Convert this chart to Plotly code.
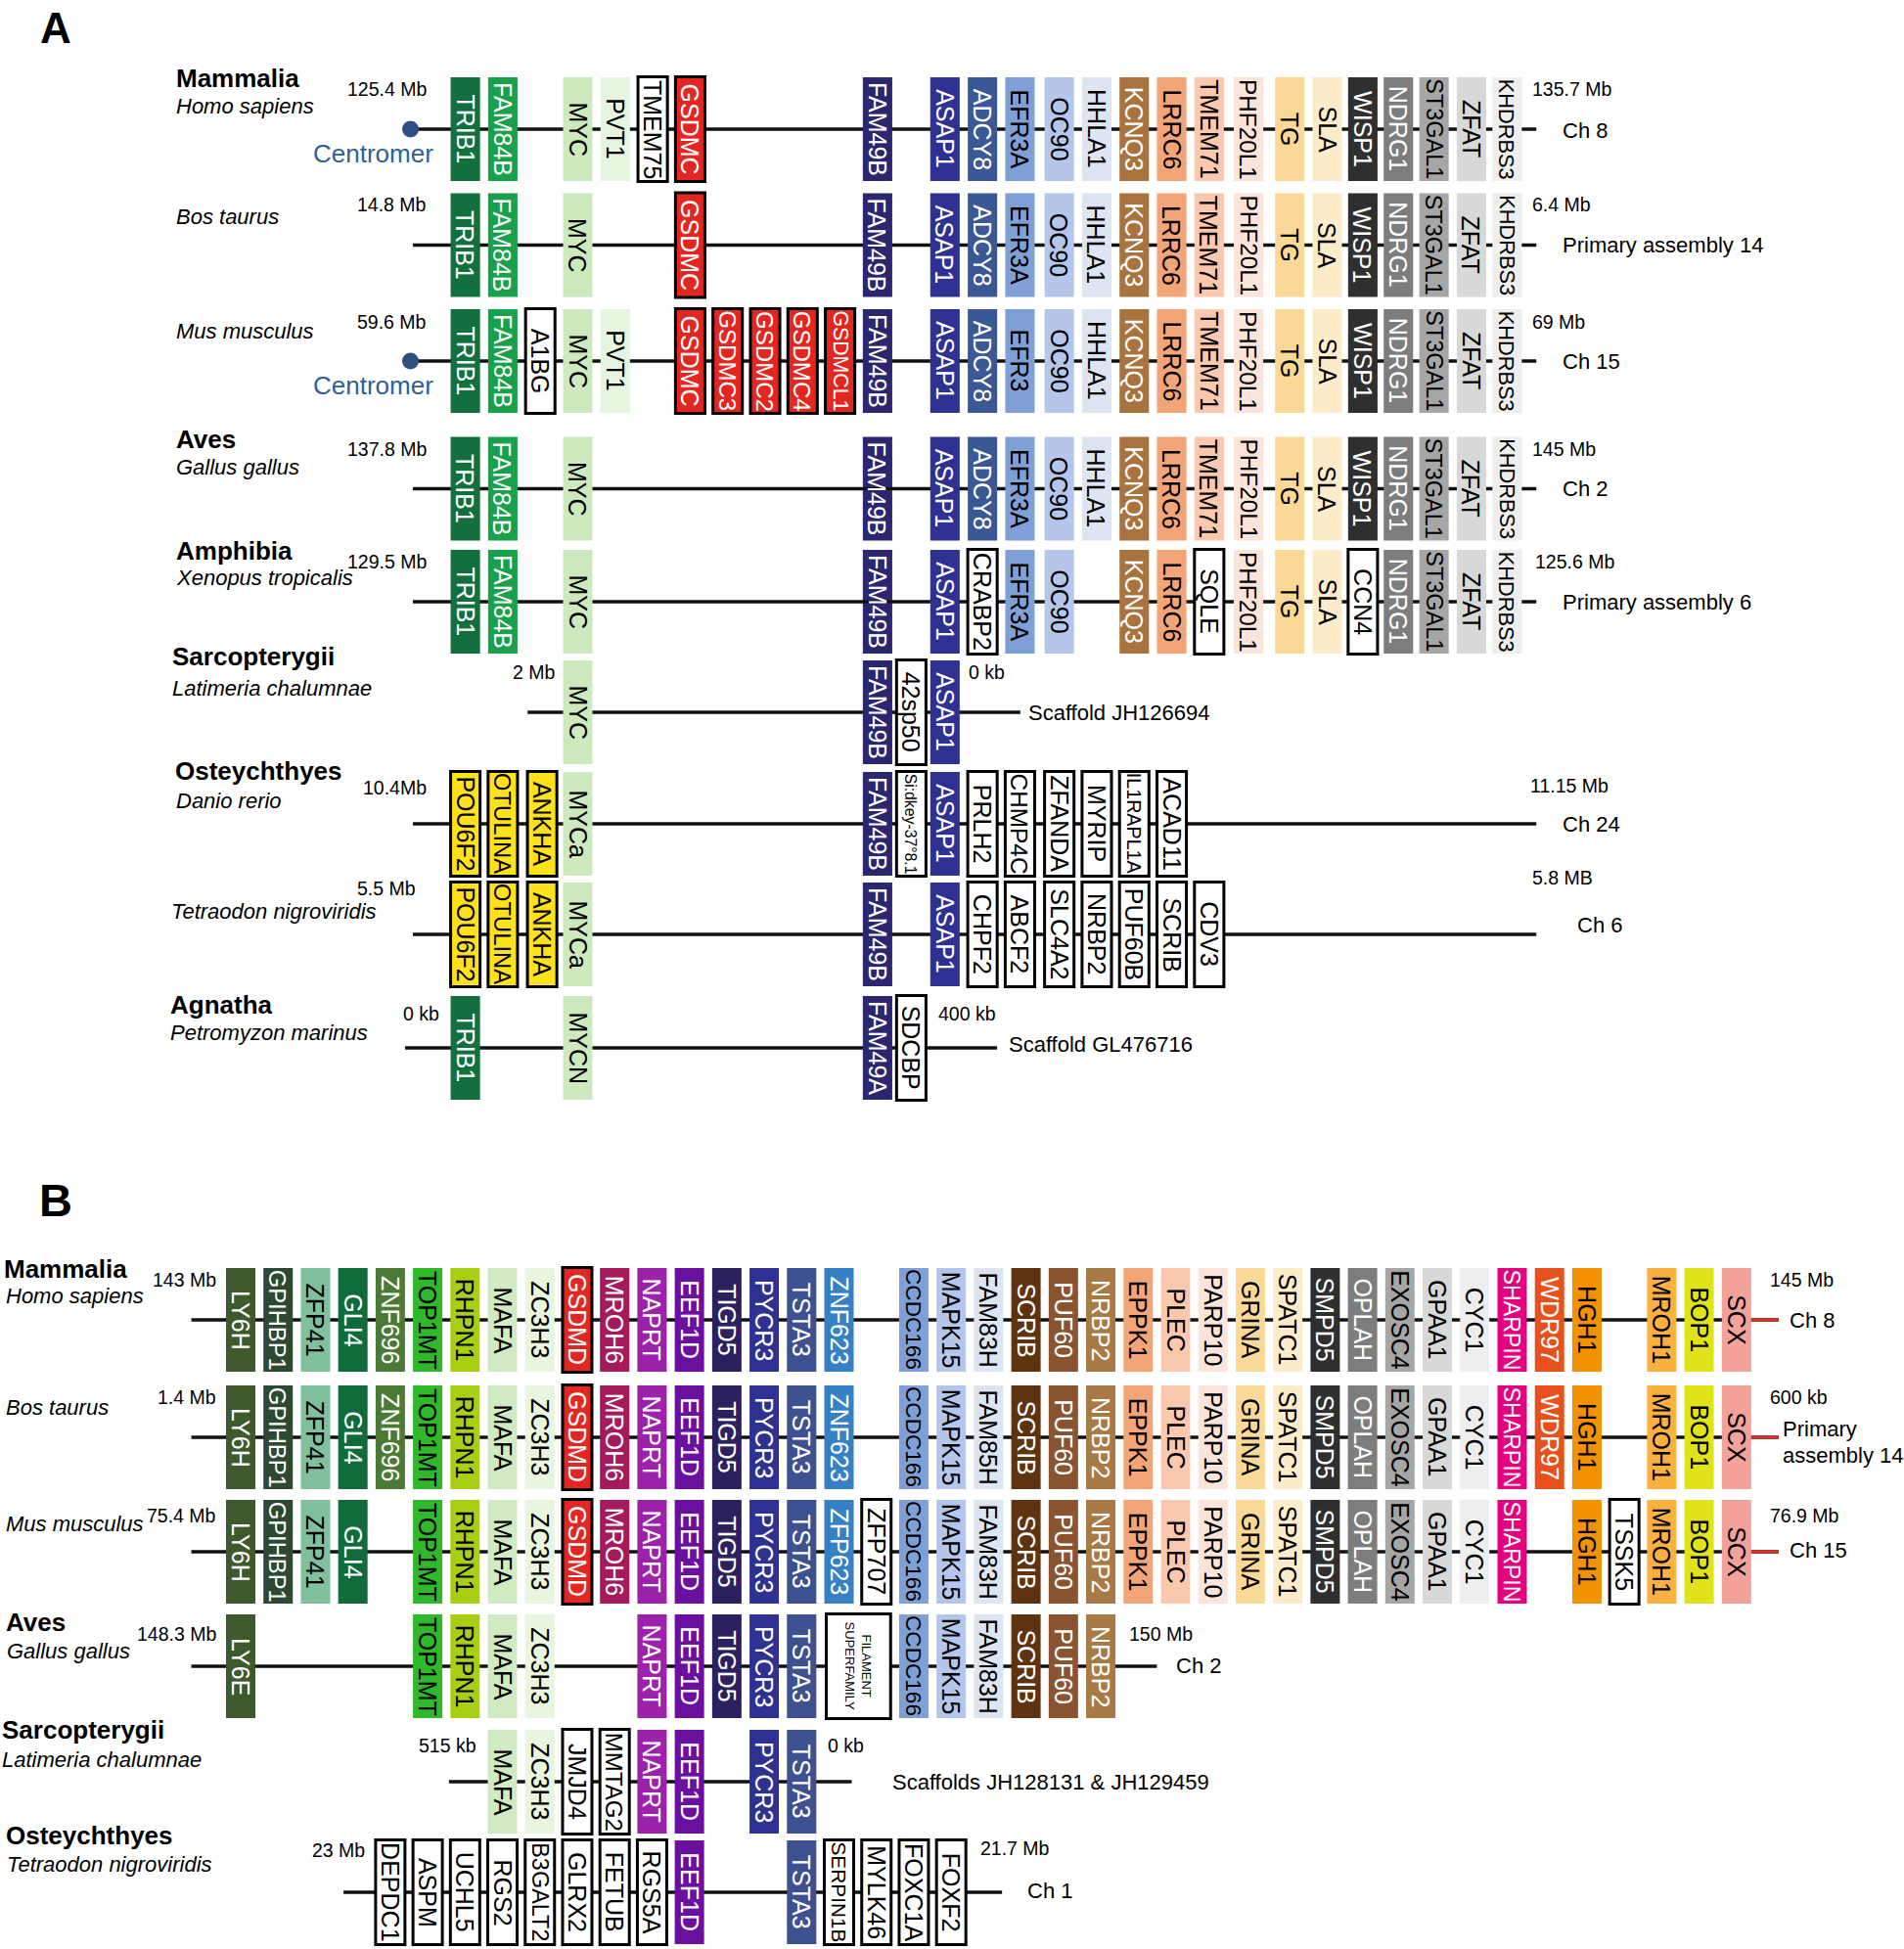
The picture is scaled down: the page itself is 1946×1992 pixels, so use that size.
import plotly.graph_objects as go

W, H = 1946, 1992
FONT = "Liberation Sans, Arial, Helvetica, sans-serif"

# ======================= PANEL A : data =======================
# schematic gene order positions (slot units along the locus)
A_SLOT = {
    "TRIB1": 0, "POU6F2": 0, "FAM84B": 1, "OTULINA": 1, "A1BG": 2, "ANKHA": 2.05,
    "MYC": 3, "MYCa": 3, "MYCN": 3, "PVT1": 4, "TMEM75": 5, "GSDMC": 6, "GSDMC3": 7,
    "GSDMC2": 8, "GSDMC4": 9, "GSDMCL1": 10, "FAM49B": 11, "FAM49A": 11,
    "42sp50": 11.9, "Si:dkey-37°8.1": 11.9, "SDCBP": 11.9, "ASAP1": 12.8,
    "ADCY8": 13.8, "CRABP2": 13.8, "PRLH2": 13.8, "CHPF2": 13.8,
    "EFR3A": 14.8, "EFR3": 14.8, "CHMP4C": 14.8, "ABCF2": 14.8,
    "OC90": 15.85, "ZFANDA": 15.85, "SLC4A2": 15.85,
    "HHLA1": 16.85, "MYRIP": 16.85, "NRBP2": 16.85,
    "KCNQ3": 17.85, "IL1RAPL1A": 17.85, "PUF60B": 17.85,
    "LRRC6": 18.85, "ACAD11": 18.85, "SCRIB": 18.85,
    "TMEM71": 19.85, "SQLE": 19.85, "CDV3": 19.85,
    "PHF20L1": 20.9, "TG": 22, "SLA": 23, "WISP1": 23.95, "CCN4": 23.95,
    "NDRG1": 24.9, "ST3GAL1": 25.85, "ZFAT": 26.85, "KHDRBS3": 27.8,
}
A_HSA = ["TRIB1", "FAM84B", "MYC", "PVT1", "TMEM75", "GSDMC", "FAM49B", "ASAP1", "ADCY8",
         "EFR3A", "OC90", "HHLA1", "KCNQ3", "LRRC6", "TMEM71", "PHF20L1", "TG", "SLA",
         "WISP1", "NDRG1", "ST3GAL1", "ZFAT", "KHDRBS3"]
A_BTA = ["TRIB1", "FAM84B", "MYC", "GSDMC", "FAM49B", "ASAP1", "ADCY8", "EFR3A", "OC90",
         "HHLA1", "KCNQ3", "LRRC6", "TMEM71", "PHF20L1", "TG", "SLA", "WISP1", "NDRG1",
         "ST3GAL1", "ZFAT", "KHDRBS3"]
A_MMU = ["TRIB1", "FAM84B", "A1BG", "MYC", "PVT1", "GSDMC", "GSDMC3", "GSDMC2", "GSDMC4",
         "GSDMCL1", "FAM49B", "ASAP1", "ADCY8", "EFR3", "OC90", "HHLA1", "KCNQ3", "LRRC6",
         "TMEM71", "PHF20L1", "TG", "SLA", "WISP1", "NDRG1", "ST3GAL1", "ZFAT", "KHDRBS3"]
A_GGA = ["TRIB1", "FAM84B", "MYC", "FAM49B", "ASAP1", "ADCY8", "EFR3A", "OC90", "HHLA1",
         "KCNQ3", "LRRC6", "TMEM71", "PHF20L1", "TG", "SLA", "WISP1", "NDRG1", "ST3GAL1",
         "ZFAT", "KHDRBS3"]
A_XTR = ["TRIB1", "FAM84B", "MYC", "FAM49B", "ASAP1", "CRABP2", "EFR3A", "OC90", "KCNQ3",
         "LRRC6", "SQLE", "PHF20L1", "TG", "SLA", "CCN4", "NDRG1", "ST3GAL1", "ZFAT", "KHDRBS3"]
A_LCH = ["MYC", "FAM49B", "42sp50", "ASAP1"]
A_DRE = ["POU6F2", "OTULINA", "ANKHA", "MYCa", "FAM49B", "Si:dkey-37°8.1", "ASAP1", "PRLH2",
         "CHMP4C", "ZFANDA", "MYRIP", "IL1RAPL1A", "ACAD11"]
A_TNI = ["POU6F2", "OTULINA", "ANKHA", "MYCa", "FAM49B", "ASAP1", "CHPF2", "ABCF2", "SLC4A2",
         "NRBP2", "PUF60B", "SCRIB", "CDV3"]
A_PMA = ["TRIB1", "MYCN", "FAM49A", "SDCBP"]
A_ROWS = [A_HSA, A_BTA, A_MMU, A_GGA, A_XTR, A_LCH, A_DRE, A_TNI, A_PMA]

A_GROUP = ["Mammalia", "", "", "Aves", "Amphibia", "Sarcopterygii", "Osteychthyes", "", "Agnatha"]
A_SPECIES = ["Homo sapiens", "Bos taurus", "Mus musculus", "Gallus gallus", "Xenopus tropicalis",
             "Latimeria chalumnae", "Danio rerio", "Tetraodon nigroviridis", "Petromyzon marinus"]
A_START = ["125.4 Mb", "14.8 Mb", "59.6 Mb", "137.8 Mb", "129.5 Mb", "2 Mb", "10.4Mb", "5.5 Mb", "0 kb"]
A_END = ["135.7 Mb", "6.4 Mb", "69 Mb", "145 Mb", "125.6 Mb", "0 kb", "11.15 Mb", "5.8 MB", "400 kb"]
A_CHROM = ["Ch 8", "Primary assembly 14", "Ch 15", "Ch 2", "Primary assembly 6",
           "Scaffold JH126694", "Ch 24", "Ch 6", "Scaffold GL476716"]
A_EXTENT_FROM = [-1.465, -1.40, -1.465, -1.40, -1.40, 1.66, -1.40, -1.40, -1.61]
A_EXTENT_TO = [28.58, 28.58, 28.58, 28.58, 28.58, 14.81, 28.58, 28.58, 14.19]
A_CENTROMERE_ROWS = [0, 2]
A_CENTROMERE_SLOT = -1.465

# ======================= PANEL B : data =======================
B_SLOT = {
    "LY6H": 0, "LY6E": 0, "GPIHBP1": 1, "ZFP41": 2, "GLI4": 3, "ZNF696": 4, "DEPDC1": 4,
    "TOP1MT": 5, "ASPM": 5, "RHPN1": 6, "UCHL5": 6, "MAFA": 7, "RGS2": 7,
    "ZC3H3": 8, "B3GALT2": 8, "GSDMD": 9, "JMJD4": 9, "GLRX2": 9,
    "MROH6": 10, "MMTAG2": 10, "FETUB": 10, "NAPRT": 11, "RGS5A": 11, "EEF1D": 12,
    "TIGD5": 13, "PYCR3": 14, "TSTA3": 15, "ZNF623": 16, "ZFP623": 16, "SERPIN1B": 16,
    "FILAMENT SUPERFAMILY": 16.52, "ZFP707": 17, "MYLK46": 17, "CCDC166": 18, "FOXC1A": 18,
    "MAPK15": 19, "FOXF2": 19, "FAM83H": 20, "FAM85H": 20, "SCRIB": 21, "PUF60": 22,
    "NRBP2": 23, "EPPK1": 24, "PLEC": 25, "PARP10": 26, "GRINA": 27, "SPATC1": 28,
    "SMPD5": 29, "OPLAH": 30, "EXOSC4": 31, "GPAA1": 32, "CYC1": 33, "SHARPIN": 34,
    "WDR97": 35, "HGH1": 36, "TSSK5": 37, "MROH1": 38, "BOP1": 39, "SCX": 40,
}
B_HSA = ["LY6H", "GPIHBP1", "ZFP41", "GLI4", "ZNF696", "TOP1MT", "RHPN1", "MAFA", "ZC3H3",
         "GSDMD", "MROH6", "NAPRT", "EEF1D", "TIGD5", "PYCR3", "TSTA3", "ZNF623", "CCDC166",
         "MAPK15", "FAM83H", "SCRIB", "PUF60", "NRBP2", "EPPK1", "PLEC", "PARP10", "GRINA",
         "SPATC1", "SMPD5", "OPLAH", "EXOSC4", "GPAA1", "CYC1", "SHARPIN", "WDR97", "HGH1",
         "MROH1", "BOP1", "SCX"]
B_BTA = ["LY6H", "GPIHBP1", "ZFP41", "GLI4", "ZNF696", "TOP1MT", "RHPN1", "MAFA", "ZC3H3",
         "GSDMD", "MROH6", "NAPRT", "EEF1D", "TIGD5", "PYCR3", "TSTA3", "ZNF623", "CCDC166",
         "MAPK15", "FAM85H", "SCRIB", "PUF60", "NRBP2", "EPPK1", "PLEC", "PARP10", "GRINA",
         "SPATC1", "SMPD5", "OPLAH", "EXOSC4", "GPAA1", "CYC1", "SHARPIN", "WDR97", "HGH1",
         "MROH1", "BOP1", "SCX"]
B_MMU = ["LY6H", "GPIHBP1", "ZFP41", "GLI4", "TOP1MT", "RHPN1", "MAFA", "ZC3H3", "GSDMD",
         "MROH6", "NAPRT", "EEF1D", "TIGD5", "PYCR3", "TSTA3", "ZFP623", "ZFP707", "CCDC166",
         "MAPK15", "FAM83H", "SCRIB", "PUF60", "NRBP2", "EPPK1", "PLEC", "PARP10", "GRINA",
         "SPATC1", "SMPD5", "OPLAH", "EXOSC4", "GPAA1", "CYC1", "SHARPIN", "HGH1", "TSSK5",
         "MROH1", "BOP1", "SCX"]
B_GGA = ["LY6E", "TOP1MT", "RHPN1", "MAFA", "ZC3H3", "NAPRT", "EEF1D", "TIGD5", "PYCR3",
         "TSTA3", "FILAMENT SUPERFAMILY", "CCDC166", "MAPK15", "FAM83H", "SCRIB", "PUF60", "NRBP2"]
B_LCH = ["MAFA", "ZC3H3", "JMJD4", "MMTAG2", "NAPRT", "EEF1D", "PYCR3", "TSTA3"]
B_TNI = ["DEPDC1", "ASPM", "UCHL5", "RGS2", "B3GALT2", "GLRX2", "FETUB", "RGS5A", "EEF1D",
         "TSTA3", "SERPIN1B", "MYLK46", "FOXC1A", "FOXF2"]
B_ROWS = [B_HSA, B_BTA, B_MMU, B_GGA, B_LCH, B_TNI]

B_GROUP = ["Mammalia", "", "", "Aves", "Sarcopterygii", "Osteychthyes"]
B_SPECIES = ["Homo sapiens", "Bos taurus", "Mus musculus", "Gallus gallus",
             "Latimeria chalumnae", "Tetraodon nigroviridis"]
B_START = ["143 Mb", "1.4 Mb", "75.4 Mb", "148.3 Mb", "515 kb", "23 Mb"]
B_END = ["145 Mb", "600 kb", "76.9 Mb", "150 Mb", "0 kb", "21.7 Mb"]
B_CHROM = ["Ch 8", "Primary<br>assembly 14", "Ch 15", "Ch 2", "Scaffolds JH128131 & JH129459", "Ch 1"]
B_EXTENT_FROM = [-1.32, -1.32, -1.32, -1.32, 5.57, 2.75]
B_EXTENT_TO = [41.13, 41.13, 41.13, 24.5, 16.34, 20.36]
B_RED_TAIL_ROWS = [0, 1, 2]

# ======================= styles =======================
W_, K_ = "white", "black"
A_COLORS = {
    "TRIB1": ("#12703f", W_), "FAM84B": ("#17a14b", W_), "MYC": ("#cdeabf", K_),
    "MYCa": ("#cdeabf", K_), "MYCN": ("#cdeabf", K_), "PVT1": ("#e6f5df", K_),
    "GSDMC": ("#e3261f", W_), "GSDMC3": ("#e3261f", W_), "GSDMC2": ("#e3261f", W_),
    "GSDMC4": ("#e3261f", W_), "GSDMCL1": ("#e3261f", W_),
    "FAM49B": ("#2c2670", W_), "FAM49A": ("#2c2670", W_), "ASAP1": ("#2e3192", W_),
    "ADCY8": ("#3b5896", W_), "EFR3A": ("#7ea0d6", K_), "EFR3": ("#7ea0d6", K_),
    "OC90": ("#b4c7ea", K_), "HHLA1": ("#dde5f3", K_), "KCNQ3": ("#a8733e", W_),
    "LRRC6": ("#f3a578", K_), "TMEM71": ("#fac9ad", K_), "PHF20L1": ("#fde4da", K_),
    "TG": ("#f9d995", K_), "SLA": ("#fdebca", K_), "WISP1": ("#2f2f2f", W_),
    "NDRG1": ("#7d7d7d", W_), "ST3GAL1": ("#a6a6a6", K_), "ZFAT": ("#d8d8d8", K_),
    "KHDRBS3": ("#eeeeee", K_),
    "POU6F2": ("#ffe11a", K_), "OTULINA": ("#ffe11a", K_), "ANKHA": ("#ffe11a", K_),
}
B_COLORS = {
    "LY6H": ("#3e5a2c", W_), "LY6E": ("#3e5a2c", W_), "GPIHBP1": ("#2c4a32", W_),
    "ZFP41": ("#80c09c", K_), "GLI4": ("#0f6b3c", W_), "ZNF696": ("#4b7a35", W_),
    "TOP1MT": ("#2eb82a", K_), "RHPN1": ("#a9cf12", K_), "MAFA": ("#d0ebc2", K_),
    "ZC3H3": ("#e8f5df", K_), "GSDMD": ("#e3261f", W_), "MROH6": ("#a61a5c", W_),
    "NAPRT": ("#9c22ab", W_), "EEF1D": ("#6b0fa0", W_), "TIGD5": ("#2c205e", W_),
    "PYCR3": ("#2e3192", W_), "TSTA3": ("#3d5190", W_), "ZNF623": ("#3880c6", W_),
    "ZFP623": ("#3880c6", W_), "CCDC166": ("#7ea0d6", K_), "MAPK15": ("#b4c7ea", K_),
    "FAM83H": ("#dde5f3", K_), "FAM85H": ("#dde5f3", K_), "SCRIB": ("#5e3312", W_),
    "PUF60": ("#8a5431", W_), "NRBP2": ("#a87a46", W_), "EPPK1": ("#f3a578", K_),
    "PLEC": ("#fac9ad", K_), "PARP10": ("#fde4da", K_), "GRINA": ("#f9d995", K_),
    "SPATC1": ("#fdebca", K_), "SMPD5": ("#2f2f2f", W_), "OPLAH": ("#7d7d7d", W_),
    "EXOSC4": ("#a6a6a6", K_), "GPAA1": ("#d8d8d8", K_), "CYC1": ("#eeeeee", K_),
    "SHARPIN": ("#e5007d", W_), "WDR97": ("#e8501c", W_), "HGH1": ("#f39200", K_),
    "MROH1": ("#fbb040", K_), "BOP1": ("#e1e31a", K_), "SCX": ("#f4a19b", K_),
}
OUTLINED_COLOURED = {"GSDMC", "GSDMC3", "GSDMC2", "GSDMC4", "GSDMCL1", "GSDMD",
                     "POU6F2", "OTULINA", "ANKHA"}
WIDE_BOX = {"FILAMENT SUPERFAMILY": 1.72}

A_ROW_Y = [132, 250.5, 369, 499.5, 615, 728, 842, 955, 1071]
B_ROW_Y = [1349, 1469, 1586, 1703, 1821, 1934]
A_X0, A_STEP = 475.6, 38.3     # pixel of slot 0 and pixel per slot (panel A axis)
B_X0, B_STEP = 246.0, 38.22    # panel B axis
BOX_W = 0.785
BOX_HH = 53.0
LINE_W = 3.5
LINE_C = "#111111"
TAIL_C = "#d2322d"

# Arial advance widths (em) used to fit gene labels into their boxes
ADV = dict(zip("ABCDEFGHIJKLMNOPQRSTUVWXYZ",
               [.667, .667, .722, .722, .667, .611, .778, .722, .278, .5, .667, .556, .833,
                .722, .778, .667, .778, .722, .667, .611, .722, .667, .944, .667, .667, .611]))
ADV.update({d: .556 for d in "0123456789"})
ADV.update(dict(zip("abcdefghijklmnopqrstuvwxyz",
                    [.556, .556, .5, .556, .556, .278, .556, .556, .222, .222, .5, .222, .833,
                     .556, .556, .556, .556, .333, .5, .278, .556, .5, .722, .5, .5, .5])))
ADV.update({":": .278, "-": .333, ".": .278, " ": .278, "°": .4})


def fit_size(label, base=25.0, maxlen=103.0):
    em = sum(ADV.get(c, .6) for c in label)
    return min(base, maxlen / em)


shapes, annotations = [], []


def draw_panel(rows, slotmap, colors, row_y, ext_from, ext_to, xref, tail_rows=()):
    # chromosome lines first (below boxes)
    for r, y in enumerate(row_y):
        shapes.append(dict(type="line", xref=xref, yref="y", x0=ext_from[r], x1=ext_to[r],
                           y0=y, y1=y, line=dict(color=LINE_C, width=LINE_W), layer="above"))
        if r in tail_rows:
            last = slotmap[rows[r][-1]]
            shapes.append(dict(type="line", xref=xref, yref="y", x0=last, x1=ext_to[r],
                               y0=y, y1=y, line=dict(color=TAIL_C, width=LINE_W), layer="above"))
    for r, genes in enumerate(rows):
        y = row_y[r]
        for g in genes:
            s = slotmap[g]
            bw = WIDE_BOX.get(g, BOX_W)
            if g in colors:
                fill, tc = colors[g]
                outlined = g in OUTLINED_COLOURED
            else:
                fill, tc, outlined = "white", "black", True
            hh = BOX_HH + (0.5 if outlined else 0)
            shapes.append(dict(type="rect", xref=xref, yref="y", x0=s - bw / 2, x1=s + bw / 2,
                               y0=y - hh, y1=y + hh, fillcolor=fill, layer="above",
                               line=dict(color="black", width=3 if outlined else 0)))
            if g == "FILAMENT SUPERFAMILY":
                txt, size = "FILAMENT<br>SUPERFAMILY", 13
            else:
                txt, size = g, fit_size(g)
            annotations.append(dict(x=s, y=y, xref=xref, yref="y", text=txt, textangle=90,
                                    showarrow=False, xanchor="center", yanchor="middle",
                                    font=dict(family=FONT, size=size, color=tc)))


draw_panel(A_ROWS, A_SLOT, A_COLORS, A_ROW_Y, A_EXTENT_FROM, A_EXTENT_TO, "x")
# the chromosome line runs across FAM49B in the chicken and frog tracks
for r in (3, 4):
    s = A_SLOT["FAM49B"]
    shapes.append(dict(type="line", xref="x", yref="y", x0=s - BOX_W / 2, x1=s + BOX_W / 2,
                       y0=A_ROW_Y[r], y1=A_ROW_Y[r], line=dict(color=LINE_C, width=3),
                       layer="above"))
draw_panel(B_ROWS, B_SLOT, B_COLORS, B_ROW_Y, B_EXTENT_FROM, B_EXTENT_TO, "x2", B_RED_TAIL_ROWS)


def label(text, x_px, y_px, size, anchor="left", color="black"):
    lines = text.split("<br>")
    step = size * 1.2
    for i, ln in enumerate(lines):
        yy = y_px + (i - (len(lines) - 1) / 2) * step
        annotations.append(dict(x=x_px / W, y=yy, xref="paper", yref="y", text=ln,
                                showarrow=False, xanchor=anchor, yanchor="middle", align="left",
                                font=dict(family=FONT, size=size, color=color)))


# ---- panel A labels (text layout) ----
label("<b>A</b>", 57, 28, 44, "center")
A_GROUP_XY = [(178, 80), None, None, (178, 449), (178, 563), (174, 671), (177, 788), None, (172, 1027)]
A_SPECIES_XY = [(178, 108), (178, 221), (178, 338), (178, 477), (178, 590), (174, 703),
                (178, 818), (173, 931), (172, 1055)]
A_START_XY = [(437.5, 91), (437.5, 209), (437.5, 328.5), (437.5, 459), (437.5, 573.5),
              (570, 687), (437.5, 804.5), (427, 908), (451, 1035.5)]
A_END_XY = [(1564, 91), (1564, 209), (1564, 328.5), (1564, 459), (1567, 573.5), (988, 687),
            (1562, 802.5), (1564, 897), (957, 1035.5)]
A_CHROM_XY = [(1595, 133), (1595, 250.5), (1595, 369.5), (1595, 499.5), (1595, 615.5),
              (1049, 728), (1595, 842.5), (1610, 945), (1029, 1067.5)]
for r in range(len(A_SPECIES)):
    if A_GROUP[r]:
        gx, gy = A_GROUP_XY[r]
        label("<b>%s</b>" % A_GROUP[r], gx, gy, 26)
    sx, sy = A_SPECIES_XY[r]
    label("<i>%s</i>" % A_SPECIES[r], sx, sy, 22)
    label(A_START[r], A_START_XY[r][0], A_START_XY[r][1], 19.5, "right")
    label(A_END[r], A_END_XY[r][0], A_END_XY[r][1], 19.5, "left")
    label(A_CHROM[r], A_CHROM_XY[r][0], A_CHROM_XY[r][1], 22, "left")
CENTROMER_Y = [157, 393.5]
for yy in CENTROMER_Y:
    label("Centromer", 381, yy, 26, "center", "#2f5f95")

# ---- panel B labels ----
label("<b>B</b>", 57, 1226, 47, "center")
B_GROUP_XY = [(2, 1296.5), None, None, (4, 1658), (0, 1767.5), (4, 1876)]
B_SPECIES_XY = [(4, 1324.5), (4, 1438.5), (4, 1557), (5, 1687), (0, 1798.5), (5, 1905)]
B_START_XY = [(223, 1307.5), (223, 1428), (223, 1549), (223, 1670), (489, 1783.5), (375, 1890.5)]
B_END_XY = [(1807, 1308), (1807, 1427.5), (1807, 1549), (1152, 1670), (844, 1783.5), (1000, 1888.5)]
B_CHROM_XY = [(1827, 1349.5), (1820, 1474), (1827, 1584.5), (1200, 1702.5),
              (910, 1821.5), (1048, 1932.5)]
for r in range(len(B_SPECIES)):
    if B_GROUP[r]:
        gx, gy = B_GROUP_XY[r]
        label("<b>%s</b>" % B_GROUP[r], gx, gy, 26)
    sx, sy = B_SPECIES_XY[r]
    label("<i>%s</i>" % B_SPECIES[r], sx, sy, 22)
    label(B_START[r], B_START_XY[r][0], B_START_XY[r][1], 19.5, "right")
    label(B_END[r], B_END_XY[r][0], B_END_XY[r][1], 19.5, "left")
    label(B_CHROM[r], B_CHROM_XY[r][0], B_CHROM_XY[r][1], 22, "left")

fig = go.Figure()
# anchor traces so both x axes exist
fig.add_trace(go.Scatter(x=[0], y=[-100], mode="markers", marker=dict(size=1, opacity=0),
                         xaxis="x", yaxis="y", hoverinfo="skip", showlegend=False))
fig.add_trace(go.Scatter(x=[0], y=[-100], mode="markers", marker=dict(size=1, opacity=0),
                         xaxis="x2", yaxis="y", hoverinfo="skip", showlegend=False))
fig.update_layout(
    width=W, height=H, margin=dict(l=0, r=0, t=0, b=0, pad=0),
    paper_bgcolor="white", plot_bgcolor="white", showlegend=False,
    xaxis=dict(domain=[0, 1], range=[-A_X0 / A_STEP, (W - A_X0) / A_STEP], visible=False,
               showgrid=False, zeroline=False, fixedrange=True),
    xaxis2=dict(domain=[0, 1], range=[-B_X0 / B_STEP, (W - B_X0) / B_STEP], visible=False,
                showgrid=False, zeroline=False, overlaying="x", anchor="y", fixedrange=True),
    yaxis=dict(domain=[0, 1], range=[H, 0], visible=False, showgrid=False, zeroline=False,
               fixedrange=True),
    shapes=shapes, annotations=annotations,
)
# centromere dots drawn after the lines so they stay visible
for r in A_CENTROMERE_ROWS:
    fig.add_shape(type="circle", xref="x", yref="y",
                  x0=A_CENTROMERE_SLOT - 8.5 / A_STEP, x1=A_CENTROMERE_SLOT + 8.5 / A_STEP,
                  y0=A_ROW_Y[r] - 8.5, y1=A_ROW_Y[r] + 8.5, fillcolor="#2d5080",
                  line=dict(width=0), layer="above")

fig.write_html("out.html", config={"displayModeBar": False, "staticPlot": True},
               post_script="document.body.style.margin='0';document.body.style.overflow='hidden';")
